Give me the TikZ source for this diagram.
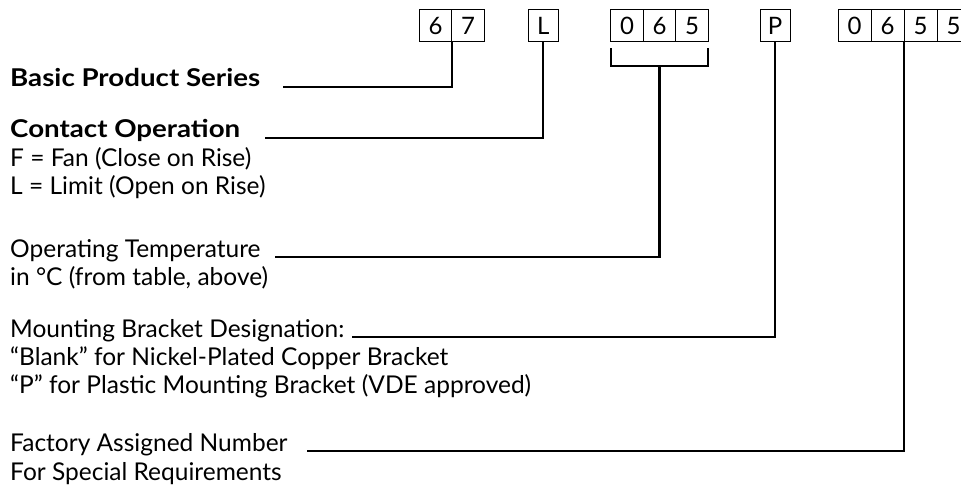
\documentclass[tikz,border=0pt]{standalone}
\usepackage{fontspec}
\setmainfont{Lato}
\newfontfamily\widebold{Lato}[FakeStretch=1.13]
\usetikzlibrary{positioning,calc}
\begin{document}
\begin{tikzpicture}[x=1pt,y=-1pt,
  lbl/.style={anchor=base west, inner sep=0pt, font=\fontsize{24.5}{28}\selectfont},
  blbl/.style={lbl, font=\fontsize{24.5}{28}\widebold\bfseries},
  cell/.style={draw, line width=1pt, minimum width=32.5pt, minimum height=32pt, inner sep=0pt, outer sep=0pt, font=\fontsize{24}{28}\selectfont},
  wcell/.style={cell, minimum width=33pt},
  ncell/.style={cell, minimum width=30pt},
  conn/.style={line width=2.2pt},
  node distance=0pt
]
\clip (0,0) rectangle (961,489);
\fill[white] (0,0) rectangle (961,489);

% code boxes
\node[cell] (c67a) at (435.5,25.85) {6};
\node[cell, right=of c67a] (c67b) {7};
\node[ncell] (cL) at (543.3,25.85) {L};
\node[cell] (c065a) at (627,25.85) {0};
\node[cell, right=of c065a] (c065b) {6};
\node[cell, right=of c065b] (c065c) {5};
\node[ncell] (cP) at (775,25.85) {P};
\node[wcell] (c0655a) at (854.5,25.85) {0};
\node[wcell, right=of c0655a] (c0655b) {6};
\node[wcell, right=of c0655b] (c0655c) {5};
\node[wcell, right=of c0655c] (c0655d) {5};

% labels
\node[blbl] (tBasic) at (10,87) {Basic Product Series};
\node[blbl] (tContact) at (10,138) {Contact Operation};
\node[lbl] (tF) at (10,167) {F = Fan (Close on Rise)};
\node[lbl] (tL) at (10,195) {L = Limit (Open on Rise)};
\node[lbl] (tOper) at (10,257) {Operating Temperature};
\node[lbl] (tDeg) at (10,285) {in °C (from table, above)};
\node[lbl] (tMount) at (10,337) {Mounting Bracket Designation:};
\node[lbl] (tBlank) at (10,365) {“Blank” for Nickel-Plated Copper Bracket};
\node[lbl] (tPl) at (10,393) {“P” for Plastic Mounting Bracket (VDE approved)};
\node[lbl] (tFact) at (10,451) {Factory Assigned Number};
\node[lbl] (tSpec) at (10,480) {For Special Requirements};

% free ends of the leader lines
\coordinate (eBasic) at (283,87);
\coordinate (eContact) at (265,138);
\coordinate (eOper) at (275,257);
\coordinate (eMount) at (352,337);
\coordinate (eFact) at (307,451);

% connectors
\draw[conn] (c67a.south east) |- (eBasic);
\draw[conn] (cL.south) |- (eContact);
\coordinate (brL) at ($(c065a.south west)+(0,6.6)$);
\coordinate (brR) at ($(c065c.south east)+(0,6.6)$);
\coordinate (brM) at ($(c065b.south)+(0,24.3)$);
\draw[conn] (brL) -- ++(0,17.7) -| (brR);
\draw[conn] (brM) |- (eOper);
\draw[conn] (cP.south) |- (eMount);
\draw[conn] (c0655b.south east) |- (eFact);
\end{tikzpicture}
\end{document}
